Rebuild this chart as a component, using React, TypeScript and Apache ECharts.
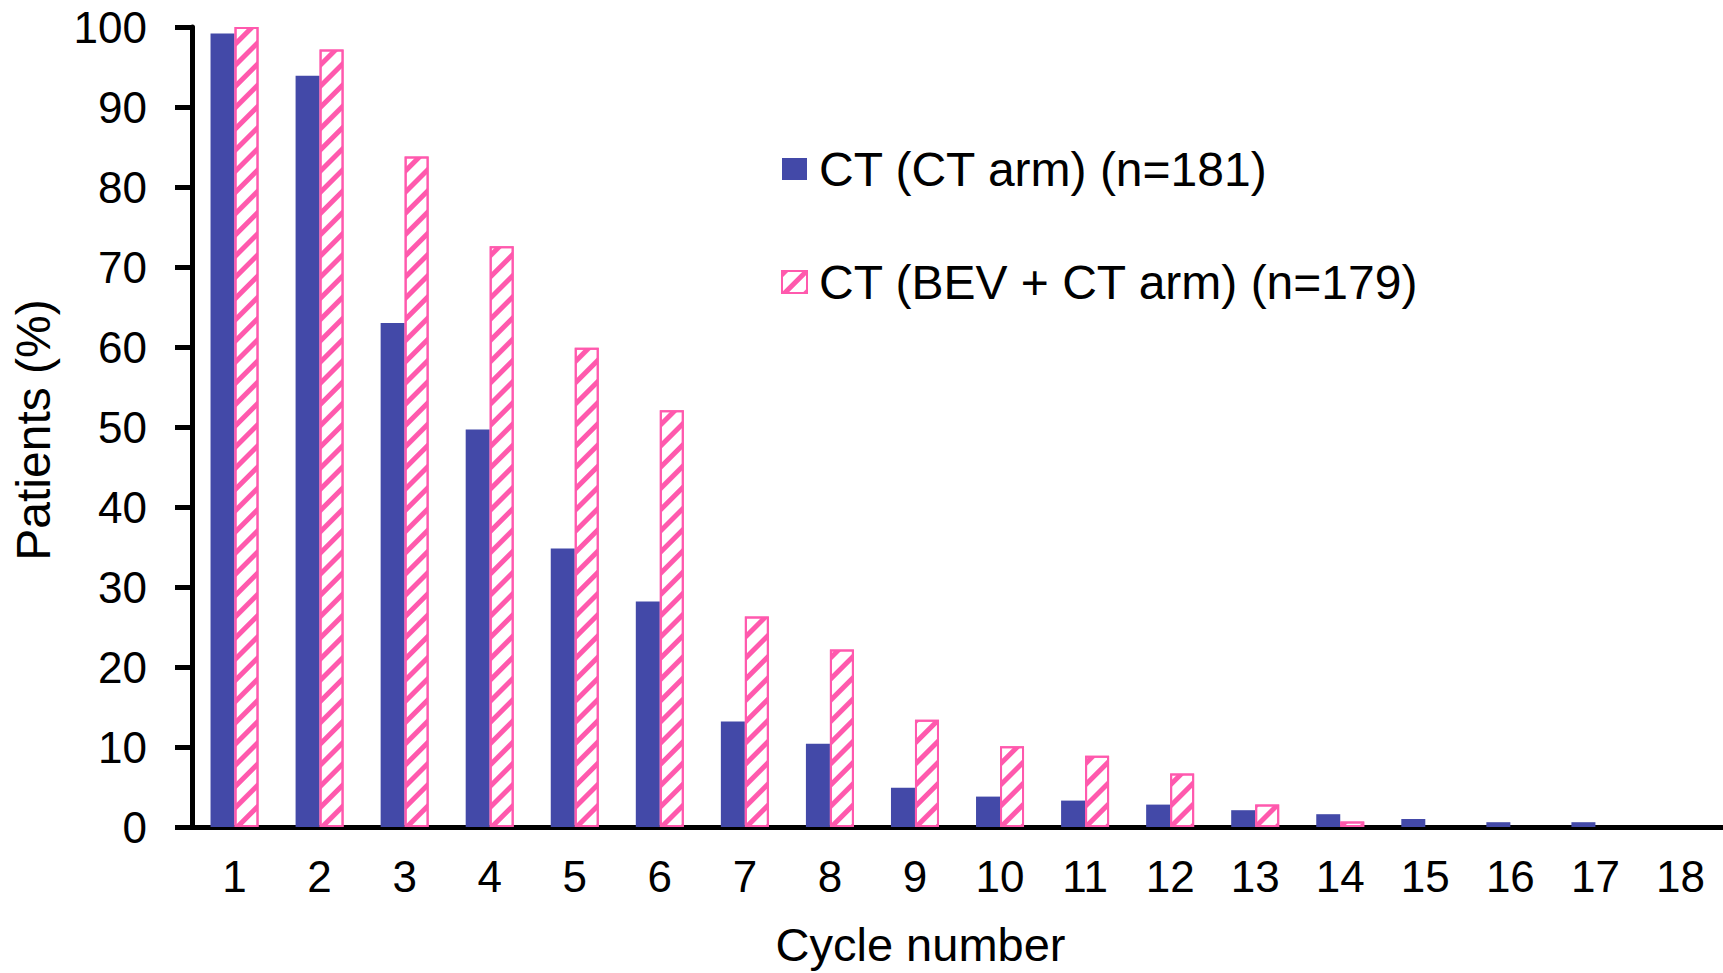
import React, { useEffect, useRef } from "react";
import * as echarts from "echarts";

const cycles = ["1", "2", "3", "4", "5", "6", "7", "8", "9", "10", "11", "12", "13", "14", "15", "16", "17", "18"];
const ctArm = [99.2, 93.9, 63.0, 49.7, 34.8, 28.2, 13.2, 10.4, 4.9, 3.8, 3.3, 2.8, 2.1, 1.6, 1.0, 0.6, 0.6, 0];
const bevArm = [100, 97.2, 83.8, 72.6, 59.9, 52.1, 26.3, 22.2, 13.4, 10.1, 8.9, 6.7, 2.8, 0.7, 0, 0, 0, 0];
const seriesNames = ["CT (CT arm) (n=181)", "CT (BEV + CT arm) (n=179)"];

const BLUE = "#4349a8";
const PINK = "#ff59ad";

const noZero = (arr: number[]) => arr.map((v) => (v === 0 ? null : v));

export default function App() {
  const ref = useRef<HTMLDivElement>(null);
  useEffect(() => {
    const chart = echarts.init(ref.current!, null, { renderer: "svg" });
    chart.setOption({
      animation: false,
      backgroundColor: "#ffffff",
      textStyle: { fontFamily: "'Liberation Sans', Arial, sans-serif", color: "#000" },
      grid: { left: 192, top: 27, width: 1535, height: 807, containLabel: false },
      legend: {
        orient: "vertical",
        left: 776,
        top: 138,
        padding: 5,
        icon: "rect",
        itemWidth: 25,
        itemHeight: 22,
        itemGap: 61,
        selectedMode: false,
        textStyle: {
          fontSize: 48,
          lineHeight: 52,
          color: "#000",
          padding: [0, 0, 0, 7],
        },
        data: seriesNames,
      },
      xAxis: {
        type: "category",
        data: cycles,
        name: "Cycle number",
        nameLocation: "middle",
        nameGap: 94,
        nameTextStyle: { fontSize: 47, color: "#000", padding: [0, 74, 0, 0] },
        axisLine: { lineStyle: { color: "#000", width: 5 } },
        axisTick: { length: 16, lineStyle: { color: "#000", width: 5 } },
        axisLabel: { fontSize: 44, color: "#000", margin: 27 },
      },
      yAxis: {
        type: "value",
        min: 0,
        max: 100,
        interval: 10,
        name: "Patients (%)",
        nameLocation: "middle",
        nameGap: 135,
        nameTextStyle: {
          fontSize: 48,
          color: "#000",
          padding: [0, 6, 0, 0],
        },
        axisLine: { show: true, lineStyle: { color: "#000", width: 5 } },
        axisTick: { show: true, length: 17, lineStyle: { color: "#000", width: 5 } },
        splitLine: { show: false },
        axisLabel: { fontSize: 44, color: "#000", margin: 45 },
      },
      series: [
        {
          name: seriesNames[0],
          type: "bar",
          data: noZero(ctArm),
          barWidth: 24,
          barGap: "0%",
          itemStyle: { color: BLUE },
        },
        {
          name: seriesNames[1],
          type: "bar",
          data: noZero(bevArm),
          barWidth: 24,
          barGap: "0%",
          itemStyle: {
            color: "#ffffff",
            borderColor: PINK,
            borderWidth: 2,
            decal: {
              symbol: "rect",
              symbolSize: 1,
              dashArrayX: [1, 0],
              dashArrayY: [5, 10],
              rotation: -Math.PI / 4,
              color: PINK,
            },
          },
        },
      ],
    });
    return () => chart.dispose();
  }, []);
  return (
    <div
      ref={ref}
      style={{ position: "absolute", left: 0, top: 0, width: 1723, height: 973, overflow: "hidden" }}
    />
  );
}
